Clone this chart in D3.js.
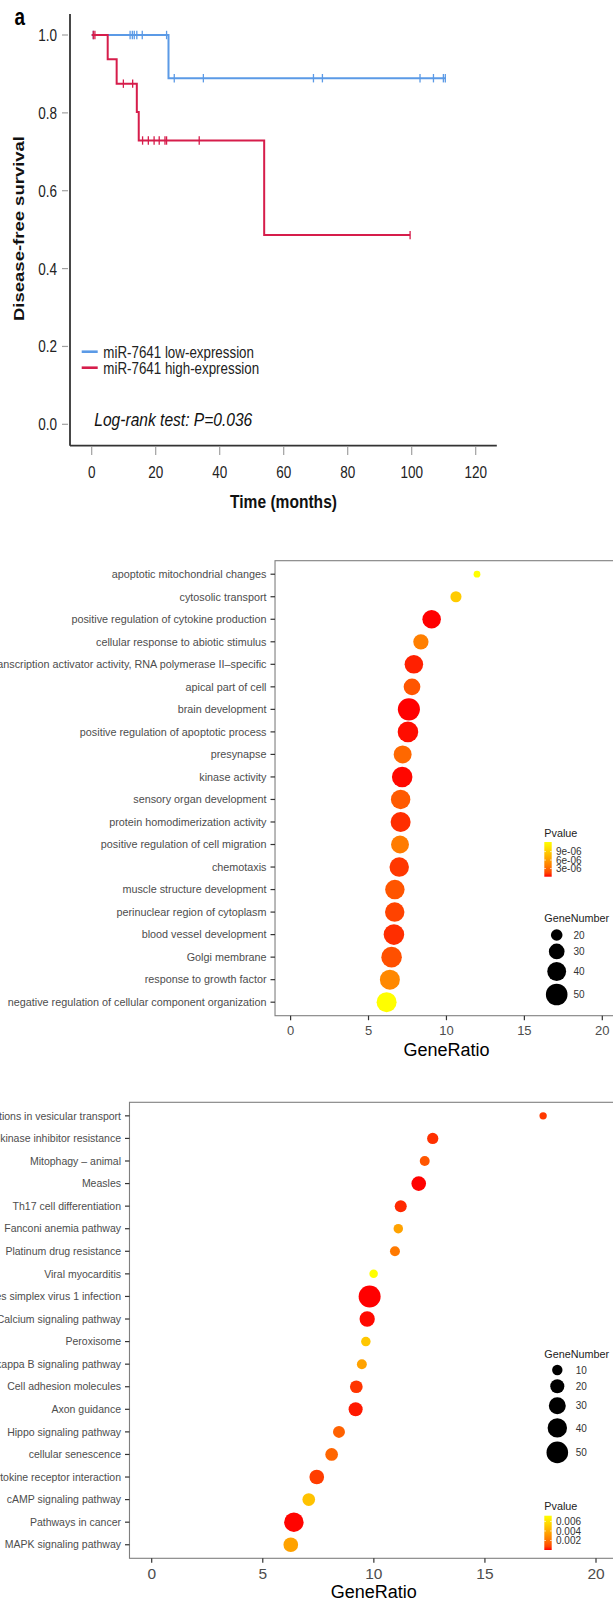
<!DOCTYPE html>
<html><head><meta charset="utf-8">
<script src="https://cdn.jsdelivr.net/npm/d3@7"></script>
<style>
body{margin:0;background:#fff}
svg{display:block}
text{font-family:"Liberation Sans",Arial,Helvetica,sans-serif}
</style>
</head><body>
<svg id="c" width="613" height="1603"></svg>
<script>
// ---------------- Panel a: Kaplan-Meier data ----------------
const kmTimeTicks = [0, 20, 40, 60, 80, 100, 120];
const kmSurvTicks = [0, 0.2, 0.4, 0.6, 0.8, 1.0];
const kmSeries = ["miR-7641 low-expression", "miR-7641 high-expression"];
const lowTimes = [0, 24];
const lowSurv = [1, 0.889];
const lowEnd = 110.7;
const lowCensor = [0.5, 12, 12.7, 13.3, 14.1, 15.8, 23.4, 25.8, 34.9, 69.3, 72.1, 102.6, 106.8, 109.9, 110.5];
const highTimes = [0, 5, 7.8, 14.1, 14.7, 53.9];
const highSurv = [1, 0.9375, 0.875, 0.802, 0.729, 0.486];
const highEnd = 99.5;
const highCensor = [0.5, 1.0, 9.9, 12.8, 15.9, 17.7, 19.5, 21.1, 22.9, 23.4, 33.6, 99.5];
const kmTest = "Log-rank test: P=0.036";

// ---------------- Panel b: GO enrichment ----------------
const goTerms = [
  "apoptotic mitochondrial changes",
  "cytosolic transport",
  "positive regulation of cytokine production",
  "cellular response to abiotic stimulus",
  "DNA-binding transcription activator activity, RNA polymerase II\u2013specific",
  "apical part of cell",
  "brain development",
  "positive regulation of apoptotic process",
  "presynapse",
  "kinase activity",
  "sensory organ development",
  "protein homodimerization activity",
  "positive regulation of cell migration",
  "chemotaxis",
  "muscle structure development",
  "perinuclear region of cytoplasm",
  "blood vessel development",
  "Golgi membrane",
  "response to growth factor",
  "negative regulation of cellular component organization"
];
const goRatio = [11.96, 10.61, 9.05, 8.36, 7.91, 7.79, 7.59, 7.53, 7.19, 7.16, 7.06, 7.06, 7.02, 6.97, 6.69, 6.68, 6.63, 6.48, 6.37, 6.16];
const goCount = [12, 19, 39, 29, 39, 33, 52, 46, 37, 46, 42, 44, 37, 42, 42, 42, 46, 46, 44, 44];
const goP = [1.24e-5, 8.9e-6, 1e-7, 4.2e-6, 4.5e-7, 2.1e-6, 1e-7, 2e-7, 3.0e-6, 1.5e-7, 2.3e-6, 7.5e-7, 4.0e-6, 1.0e-6, 2.1e-6, 1.4e-6, 7.5e-7, 1.9e-6, 4.7e-6, 1.23e-5];
const goSizeTicks = [20, 30, 40, 50];
const goPTicks = [3e-6, 6e-6, 9e-6];
const goPLabels = ["3e-06", "6e-06", "9e-06"];

// ---------------- Panel c: KEGG enrichment ----------------
const keggTerms = [
  "SNARE interactions in vesicular transport",
  "EGFR tyrosine kinase inhibitor resistance",
  "Mitophagy \u2013 animal",
  "Measles",
  "Th17 cell differentiation",
  "Fanconi anemia pathway",
  "Platinum drug resistance",
  "Viral myocarditis",
  "Herpes simplex virus 1 infection",
  "Calcium signaling pathway",
  "Peroxisome",
  "NF-kappa B signaling pathway",
  "Cell adhesion molecules",
  "Axon guidance",
  "Hippo signaling pathway",
  "cellular senescence",
  "Cytokine-cytokine receptor interaction",
  "cAMP signaling pathway",
  "Pathways in cancer",
  "MAPK signaling pathway"
];
const keggRatio = [17.62, 12.65, 12.29, 12.02, 11.21, 11.10, 10.95, 9.99, 9.81, 9.70, 9.64, 9.46, 9.21, 9.18, 8.43, 8.10, 7.43, 7.07, 6.40, 6.26];
const keggCount = [4, 12, 9, 22, 14, 8, 9, 6, 52, 24, 8, 9, 16, 20, 14, 16, 22, 16, 40, 22];
const keggP = [0.00058, 0.00043, 0.0012, 0.00002, 0.00032, 0.0036, 0.0022, 0.0072, 0.00001, 0.00005, 0.005, 0.0036, 0.0005, 0.00015, 0.0015, 0.0016, 0.00065, 0.0048, 0.00003, 0.0036];
const keggSizeTicks = [10, 20, 30, 40, 50];
const keggPTicks = [0.002, 0.004, 0.006];
const keggPLabels = ["0.002", "0.004", "0.006"];

const ratioTicks = [0, 5, 10, 15, 20];

// =========================================================
const svg = d3.select("#c");
const SX = 0.82; // horizontal compression of panel a's typography

// ---------------- Panel a ----------------
(function () {
  const g = svg.append("g");
  const x = d3.scaleLinear().domain([0, 120]).range([91.7, 475.7]);
  const y = d3.scaleLinear().domain([0, 1]).range([424.3, 35]);
  const axisCol = "#333";
  const blue = "#5b9ae6", red = "#d61d4b";

  // axis lines
  g.append("line").attr("x1", 70).attr("x2", 70).attr("y1", y(1.054)).attr("y2", 445.7)
    .attr("stroke", axisCol).attr("stroke-width", 1.8);
  g.append("line").attr("x1", 70).attr("x2", x(126.6)).attr("y1", 445.7).attr("y2", 445.7)
    .attr("stroke", axisCol).attr("stroke-width", 1.8);

  kmSurvTicks.forEach(v => {
    g.append("line").attr("x1", 62).attr("x2", 68).attr("y1", y(v)).attr("y2", y(v))
      .attr("stroke", "#a0a0a0").attr("stroke-width", 1.2);
    g.append("text").attr("transform", `translate(57,${y(v)}) scale(${SX},1)`)
      .attr("dy", "0.36em").attr("text-anchor", "end").attr("font-size", 16.5).attr("fill", "#222")
      .text(v.toFixed(1));
  });
  kmTimeTicks.forEach(v => {
    g.append("line").attr("x1", x(v)).attr("x2", x(v)).attr("y1", 447).attr("y2", 455)
      .attr("stroke", "#a0a0a0").attr("stroke-width", 1.2);
    g.append("text").attr("transform", `translate(${x(v)},471.7) scale(${SX},1)`)
      .attr("dy", "0.36em").attr("text-anchor", "middle").attr("font-size", 16.5).attr("fill", "#222")
      .text(v);
  });

  // titles
  g.append("text").attr("transform", `translate(283.5,501.5) scale(${SX},1)`)
    .attr("dy", "0.36em").attr("text-anchor", "middle").attr("font-size", 19).attr("font-weight", "bold")
    .attr("fill", "#111").text("Time (months)");
  g.append("text").attr("transform", `translate(18.5,228.5) scale(${SX},1) rotate(-90)`)
    .attr("dy", "0.36em").attr("text-anchor", "middle").attr("font-size", 18.5).attr("font-weight", "bold")
    .attr("fill", "#111").text("Disease-free survival");
  g.append("text").attr("transform", `translate(14.5,24.5) scale(${SX},1)`)
    .attr("font-size", 23).attr("font-weight", "bold").attr("fill", "#000").text("a");

  const line = d3.line().x(d => x(d[0])).y(d => y(d[1])).curve(d3.curveStepAfter);
  function drawCurve(times, surv, end, censor, color) {
    const pts = times.map((t, i) => [t, surv[i]]).concat([[end, surv[surv.length - 1]]]);
    g.append("path").attr("d", line(pts)).attr("fill", "none").attr("stroke", color).attr("stroke-width", 2);
    const survAt = t => { let s = surv[0]; times.forEach((tt, i) => { if (tt <= t) s = surv[i]; }); return s; };
    censor.forEach(t => {
      const s = survAt(t);
      g.append("line").attr("x1", x(t)).attr("x2", x(t)).attr("y1", y(s) - 4.2).attr("y2", y(s) + 4.2)
        .attr("stroke", color).attr("stroke-width", 1.3);
    });
  }
  drawCurve(lowTimes, lowSurv, lowEnd, lowCensor, blue);
  drawCurve(highTimes, highSurv, highEnd, highCensor, red);

  // legend
  [blue, red].forEach((c, i) => {
    const yy = 351.7 + i * 16;
    g.append("line").attr("x1", 81.7).attr("x2", 97.7).attr("y1", yy).attr("y2", yy)
      .attr("stroke", c).attr("stroke-width", 2.6);
    g.append("text").attr("transform", `translate(103.3,${yy}) scale(${SX},1)`)
      .attr("dy", "0.36em").attr("font-size", 16.3).attr("fill", "#222").text(kmSeries[i]);
  });
  g.append("text").attr("transform", `translate(94.3,418.8) scale(${SX},1)`)
    .attr("dy", "0.36em").attr("font-size", 19).attr("font-style", "italic").attr("fill", "#111")
    .text(kmTest);
})();

// ---------------- Dot plot panels ----------------
function dotPanel(cfg, idx) {
  const g = svg.append("g");
  const x = d3.scaleLinear().domain([0, 20]).range(cfg.xRange);
  const y = d3.scalePoint().domain(cfg.terms).range([cfg.top, cfg.bottom]).padding(0.6);
  const area = d3.scaleLinear().domain(cfg.sizeDomain).range(cfg.areaRange);
  const rad = v => Math.sqrt(Math.max(1, area(v)));
  const pExt = d3.extent(cfg.p);
  const col = d3.scaleLinear().domain(pExt).range(["#ff0000", "#ffff00"]).interpolate(d3.interpolateLab);
  const left = x(-1), right = x(21);

  g.append("rect").attr("x", left).attr("y", cfg.top).attr("width", right - left)
    .attr("height", cfg.bottom - cfg.top).attr("fill", "#fff")
    .attr("stroke", "#7f7f7f").attr("stroke-width", 1.1);

  cfg.terms.forEach(t => {
    g.append("line").attr("x1", left - 4.5).attr("x2", left).attr("y1", y(t)).attr("y2", y(t))
      .attr("stroke", "#333").attr("stroke-width", 1.2);
    g.append("text").attr("x", left - 8.5).attr("y", y(t)).attr("dy", "0.35em")
      .attr("text-anchor", "end").attr("font-size", cfg.labelSize).attr("fill", "#4d4d4d").text(t);
  });
  ratioTicks.forEach(v => {
    g.append("line").attr("x1", x(v)).attr("x2", x(v)).attr("y1", cfg.bottom).attr("y2", cfg.bottom + 4.5)
      .attr("stroke", "#333").attr("stroke-width", 1.2);
    g.append("text").attr("x", x(v)).attr("y", cfg.tickLabelY).attr("dy", "0.36em")
      .attr("text-anchor", "middle").attr("font-size", cfg.tickSize).attr("fill", "#4d4d4d").text(v);
  });
  g.append("text").attr("x", (left + right) / 2).attr("y", cfg.titleY).attr("dy", "0.36em")
    .attr("text-anchor", "middle").attr("font-size", 18).attr("fill", "#000").text("GeneRatio");

  cfg.terms.forEach((t, i) => {
    g.append("circle").attr("cx", x(cfg.ratio[i])).attr("cy", y(t)).attr("r", rad(cfg.count[i]))
      .attr("fill", col(cfg.p[i]));
  });

  // --- colour legend
  const L = cfg.legend;
  g.append("text").attr("x", L.x).attr("y", L.pTitleY).attr("dy", "0.36em")
    .attr("font-size", 10.8).attr("fill", "#222").text("Pvalue");
  const gid = "grad" + idx;
  const grad = svg.append("defs").append("linearGradient").attr("id", gid)
    .attr("x1", 0).attr("x2", 0).attr("y1", 1).attr("y2", 0);
  d3.range(0, 1.0001, 0.1).forEach(f => {
    grad.append("stop").attr("offset", f).attr("stop-color", col(pExt[0] + f * (pExt[1] - pExt[0])));
  });
  const by = d3.scaleLinear().domain(pExt).range([L.barBottom, L.barTop]);
  g.append("rect").attr("x", L.x).attr("y", L.barTop).attr("width", 7.4)
    .attr("height", L.barBottom - L.barTop).attr("fill", `url(#${gid})`);
  cfg.pTicks.forEach((v, i) => {
    g.append("line").attr("x1", L.x).attr("x2", L.x + 1.5).attr("y1", by(v)).attr("y2", by(v))
      .attr("stroke", "#fff").attr("stroke-width", 0.8);
    g.append("line").attr("x1", L.x + 5.9).attr("x2", L.x + 7.4).attr("y1", by(v)).attr("y2", by(v))
      .attr("stroke", "#fff").attr("stroke-width", 0.8);
    g.append("text").attr("x", L.x + 11.7).attr("y", by(v)).attr("dy", "0.36em")
      .attr("font-size", 10).attr("fill", "#333").text(cfg.pLabels[i]);
  });

  // --- size legend
  g.append("text").attr("x", L.x).attr("y", L.sTitleY).attr("dy", "0.36em")
    .attr("font-size", 10.8).attr("fill", "#222").text("GeneNumber");
  let cy = L.firstKeyY;
  cfg.sizeTicks.forEach((v, i) => {
    if (i > 0) cy += rad(cfg.sizeTicks[i - 1]) + rad(v) + L.keyPad;
    g.append("circle").attr("cx", L.cx).attr("cy", cy).attr("r", rad(v)).attr("fill", "#000");
    g.append("text").attr("x", L.labelX).attr("y", cy).attr("dy", "0.36em")
      .attr("font-size", 10).attr("fill", "#333").text(v);
  });
}

dotPanel({
  terms: goTerms, ratio: goRatio, count: goCount, p: goP,
  xRange: [290.6, 602.3], top: 560.7, bottom: 1015.7,
  labelSize: 10.8, tickSize: 13, tickLabelY: 1030, titleY: 1050,
  sizeDomain: [20, 50], areaRange: [33.6, 116.6], sizeTicks: goSizeTicks,
  pTicks: goPTicks, pLabels: goPLabels,
  legend: { x: 544.3, pTitleY: 833.3, barTop: 842, barBottom: 876.7,
            sTitleY: 918.3, firstKeyY: 935, keyPad: 2.8, cx: 556.7, labelX: 573.5 }
}, 0);

dotPanel({
  terms: keggTerms, ratio: keggRatio, count: keggCount, p: keggP,
  xRange: [151.7, 596], top: 1102.3, bottom: 1558.3,
  labelSize: 10.5, tickSize: 15.5, tickLabelY: 1573.3, titleY: 1591.5,
  sizeDomain: [10, 50], areaRange: [27, 116.6], sizeTicks: keggSizeTicks,
  pTicks: keggPTicks, pLabels: keggPLabels,
  legend: { x: 544.3, pTitleY: 1505.7, barTop: 1515.7, barBottom: 1550,
            sTitleY: 1354, firstKeyY: 1370, keyPad: 4, cx: 557.3, labelX: 575.7 }
}, 1);
</script>
</body></html>
